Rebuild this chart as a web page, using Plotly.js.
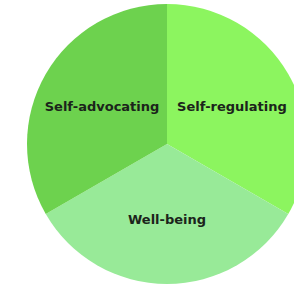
<!DOCTYPE html>
<html>
<head>
<meta charset="utf-8">
<script src="https://cdn.plot.ly/plotly-3.0.1.min.js"></script>
<style>
html,body{margin:0;padding:0;overflow:hidden;background:#fff;}
#chart{width:294px;height:284px;overflow:hidden;}
</style>
</head>
<body>
<div id="chart"></div>
<script>
const labels = ["Self-regulating", "Well-being", "Self-advocating"];
const values = [1, 1, 1];
const colors = ["#8cf55f", "#98ea98", "#6dd24e"];

Plotly.newPlot("chart", [{
  type: "pie",
  labels: labels,
  values: values,
  sort: false,
  direction: "clockwise",
  rotation: 0,
  marker: {colors: colors, line: {width: 0}},
  textinfo: "label",
  textposition: "inside",
  insidetextorientation: "horizontal",
  textfont: {family: "'DejaVu Sans', sans-serif", size: 13, color: "#1b241b", weight: "bold"},
  hoverinfo: "none",
  showlegend: false
}], {
  width: 307,
  height: 284,
  margin: {l: 27, r: 0, t: 4, b: 0, pad: 0},
  paper_bgcolor: "#ffffff",
  showlegend: false
}, {staticPlot: true, displayModeBar: false});
</script>
</body>
</html>
